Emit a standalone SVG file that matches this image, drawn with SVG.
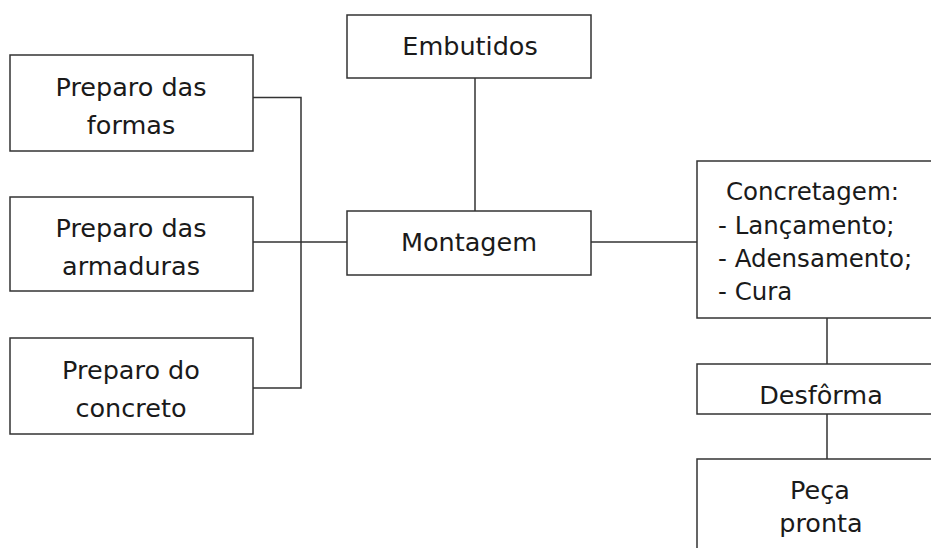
<svg xmlns="http://www.w3.org/2000/svg" width="931" height="548" viewBox="0 0 931 548">
<style>
.box{fill:#fff;stroke:#333;stroke-width:1.5}
.ln{fill:none;stroke:#333;stroke-width:1.5}
text{font-family:"DejaVu Sans",Verdana,sans-serif;font-size:25.5px;fill:#1a1a1a}
.c{text-anchor:middle}
.l{font-size:24.5px}
</style>
<rect width="931" height="548" fill="#fff"/>
<g id="connectors">
<path class="ln" d="M253 97.5H301V388H253M253 242H348"/>
<path class="ln" d="M475 78V211"/>
<path class="ln" d="M591 242H697"/>
<path class="ln" d="M827 318V364M827 414V459"/>
</g>
<g id="formas"><rect class="box" x="10" y="55" width="243" height="96"/>
<text class="c" x="131" y="96">Preparo das</text><text class="c" x="131" y="134">formas</text></g>
<g id="armaduras"><rect class="box" x="10" y="197" width="243" height="94"/>
<text class="c" x="131" y="237">Preparo das</text><text class="c" x="131" y="275">armaduras</text></g>
<g id="concreto"><rect class="box" x="10" y="338" width="243" height="96"/>
<text class="c" x="131" y="379">Preparo do</text><text class="c" x="131" y="417">concreto</text></g>
<g id="embutidos"><rect class="box" x="347" y="15" width="244" height="63"/>
<text class="c" x="470" y="55">Embutidos</text></g>
<g id="montagem"><rect class="box" x="347" y="211" width="244" height="64"/>
<text class="c" x="469" y="251">Montagem</text></g>
<g id="concretagem"><rect class="box" x="697" y="161" width="250" height="157"/>
<text class="l" x="726" y="200">Concretagem:</text>
<text class="l" x="718" y="234">- Lançamento;</text>
<text class="l" x="718" y="267">- Adensamento;</text>
<text class="l" x="718" y="300">- Cura</text></g>
<g id="desforma"><rect class="box" x="697" y="364" width="250" height="50"/>
<text class="c" x="821" y="404">Desfôrma</text></g>
<g id="peca"><rect class="box" x="697" y="459" width="250" height="100"/>
<text class="c" x="820" y="499">Peça</text><text class="c" x="821" y="532">pronta</text></g>
</svg>
